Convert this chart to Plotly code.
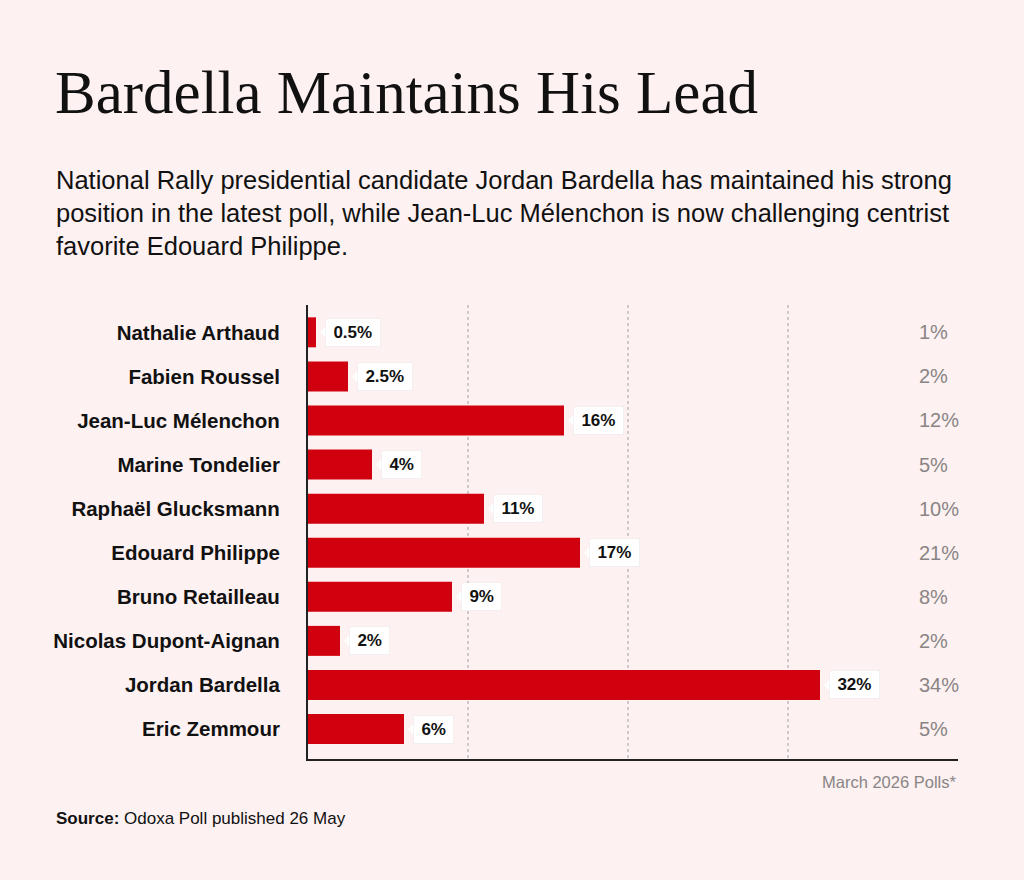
import plotly.graph_objects as go

# --- data -------------------------------------------------------------
candidates = [
    "Nathalie Arthaud",
    "Fabien Roussel",
    "Jean-Luc Mélenchon",
    "Marine Tondelier",
    "Raphaël Glucksmann",
    "Edouard Philippe",
    "Bruno Retailleau",
    "Nicolas Dupont-Aignan",
    "Jordan Bardella",
    "Eric Zemmour",
]
latest_poll = [0.5, 2.5, 16, 4, 11, 17, 9, 2, 32, 6]
latest_labels = ["0.5%", "2.5%", "16%", "4%", "11%", "17%", "9%", "2%", "32%", "6%"]
march_poll = [1, 2, 12, 5, 10, 21, 8, 2, 34, 5]
grid_values = [10, 20, 30]

BG = "#FDF1F1"
RED = "#D1000E"
INK = "#111111"
GREY = "#8A8585"
SANS = "Liberation Sans, Arial, sans-serif"
SERIF = "Liberation Serif, Times New Roman, serif"

W, H = 1024, 880
L, R, T, B = 308, 66, 305, 121  # plot area margins in px


def px_x(px):
    """pixel x -> paper x"""
    return (px - L) / (W - L - R)


def px_y(py):
    """pixel y (from top) -> paper y"""
    return (H - B - py) / (H - T - B)


fig = go.Figure()

fig.add_trace(go.Bar(
    x=latest_poll,
    y=candidates,
    orientation="h",
    marker=dict(color=RED, line=dict(width=0)),
    width=0.68,
    hoverinfo="skip",
    showlegend=False,
))

annotations = []
shapes = []

# white value boxes with a little pointer
for name, val, lab in zip(candidates, latest_poll, latest_labels):
    annotations.append(dict(
        x=val, y=name, xref="x", yref="y",
        text="\u2009" + lab + "\u2009",
        showarrow=False, xanchor="left", yanchor="middle",
        xshift=9,
        bgcolor="white", borderpad=4,
        bordercolor="rgba(0,0,0,0.04)", borderwidth=1,
        font=dict(family=SANS, size=17, color=INK, weight="bold"),
    ))
    shapes.append(dict(
        type="path", xref="x", yref="y",
        xsizemode="pixel", ysizemode="pixel",
        xanchor=val, yanchor=name,
        path="M 10,-6 L 4,0 L 10,6 Z",
        fillcolor="white", line=dict(width=0),
    ))

# March poll column on the right
for name, val in zip(candidates, march_poll):
    annotations.append(dict(
        x=px_x(917), y=name, xref="paper", yref="y",
        text=f"{val}%", showarrow=False, xanchor="left", yanchor="middle",
        font=dict(family=SANS, size=20, color=GREY),
    ))

annotations += [
    dict(x=px_x(958), y=px_y(782), xref="paper", yref="paper",
         text="March 2026 Polls*", showarrow=False,
         xanchor="right", yanchor="middle",
         font=dict(family=SANS, size=16.5, color=GREY)),
    dict(x=px_x(53), y=px_y(93), xref="paper", yref="paper",
         text="Bardella Maintains His Lead", showarrow=False,
         xanchor="left", yanchor="middle",
         font=dict(family=SERIF, size=61, color=INK)),
    dict(x=px_x(54), y=px_y(818), xref="paper", yref="paper",
         text="<b>Source:</b> Odoxa Poll published 26 May", showarrow=False,
         xanchor="left", yanchor="middle",
         font=dict(family=SANS, size=17, color=INK)),
]

subtitle_lines = [
    "National Rally presidential candidate Jordan Bardella has maintained his strong",
    "position in the latest poll, while Jean-Luc Mélenchon is now challenging centrist",
    "favorite Edouard Philippe.",
]
for i, line in enumerate(subtitle_lines):
    annotations.append(dict(
        x=px_x(54), y=px_y(180 + 33 * i), xref="paper", yref="paper",
        text=line, showarrow=False, xanchor="left", yanchor="middle",
        font=dict(family=SANS, size=25.5, color=INK),
    ))

fig.update_layout(
    width=W, height=H,
    paper_bgcolor=BG, plot_bgcolor=BG,
    margin=dict(l=L, r=R, t=T, b=B),
    bargap=0.32,
    annotations=annotations,
    shapes=shapes,
    xaxis=dict(
        range=[0, 40.625],
        tickvals=grid_values,
        showticklabels=False,
        showgrid=True, gridcolor="#CFCACA", griddash="dot", gridwidth=1.5,
        zeroline=False,
        showline=True, linecolor="#222", linewidth=1.5,
        fixedrange=True,
    ),
    yaxis=dict(
        categoryorder="array", categoryarray=candidates,
        range=[9.68, -0.62],
        showgrid=False, zeroline=False,
        showline=True, linecolor="#222", linewidth=2,
        ticks="", ticklabelstandoff=22,
        tickfont=dict(family=SANS, size=20.5, color=INK, weight="bold"),
        fixedrange=True,
    ),
)

# page margin off so the figure fills the window like the reference
fig.write_html("out.html", config={"displayModeBar": False},
               post_script="document.body.style.margin='0';")
